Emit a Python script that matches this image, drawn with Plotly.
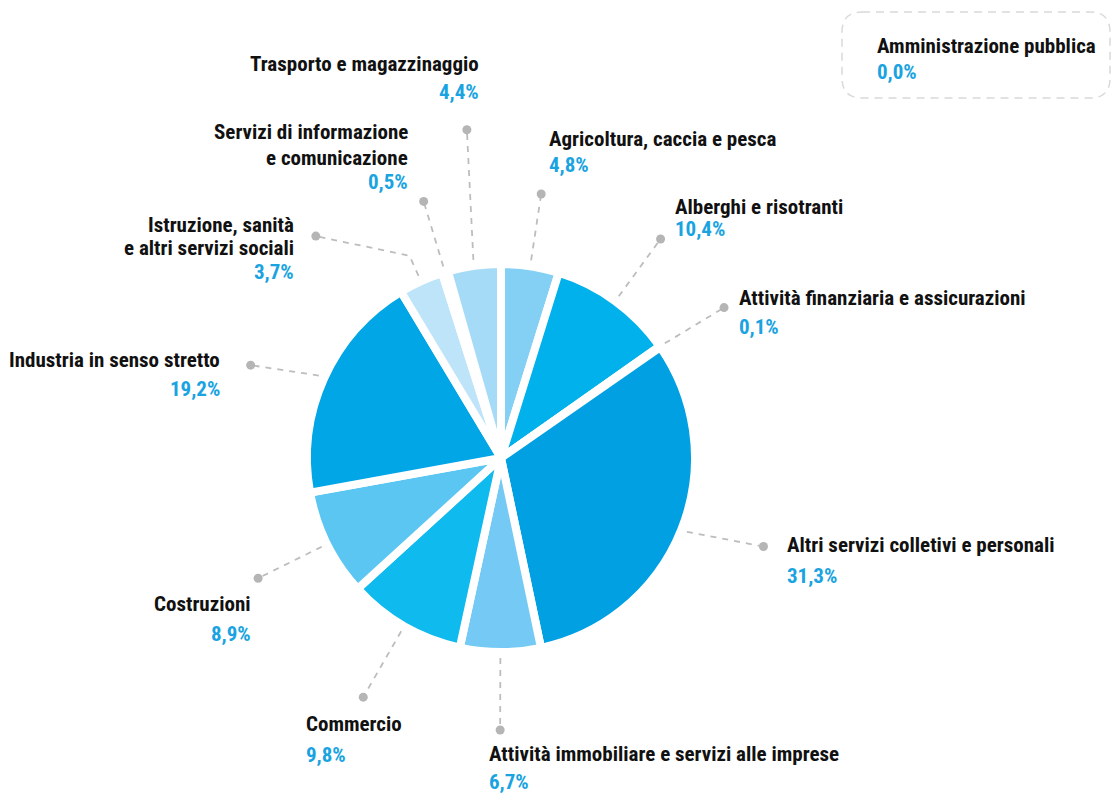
import math
import plotly.graph_objects as go

# ---------------- data ----------------
categories = [
    "Agricoltura, caccia e pesca",
    "Alberghi e risotranti",
    "Attività finanziaria e assicurazioni",
    "Altri servizi colletivi e personali",
    "Attività immobiliare e servizi alle imprese",
    "Commercio",
    "Costruzioni",
    "Industria in senso stretto",
    "Istruzione, sanità<br>e altri servizi sociali",
    "Servizi di informazione<br>e comunicazione",
    "Trasporto e magazzinaggio",
    "Amministrazione pubblica",
]
values = [4.8, 10.4, 0.1, 31.3, 6.7, 9.8, 8.9, 19.2, 3.7, 0.5, 4.4, 0.0]
value_labels = ["4,8%", "10,4%", "0,1%", "31,3%", "6,7%", "9,8%", "8,9%",
                "19,2%", "3,7%", "0,5%", "4,4%", "0,0%"]
colors = ["#84D0F5", "#00B1EB", "#CBEAFA", "#00A0E3", "#74CAF4", "#0FBAEE",
          "#5BC6F2", "#00A6E6", "#BEE4F9", "#D4EEFB", "#A6DBF7", "#FFFFFF"]

# ---------------- layout config ----------------
W, H = 1117, 793
CX, CY, R = 501, 458, 194          # pie centre / radius in px
LINE_W = 8                          # white separators
BLUE = "#1AA3E1"
GREY = "#B5B5B5"
FONT = "Liberation Sans Narrow, Roboto Condensed, Arial Narrow, sans-serif"
FS = 21

# leader: (dot radius, angle offset deg, elbow radius or None)
leaders = {
    0: (267, 0, None), 1: (271, 0, None), 2: (269, 1, None), 3: (277, -3, None),
    4: (272, 0, None), 5: (276, 0, None), 6: (271, 0, None), 7: (267, -4, None),
    8: (289, -15.5, 222), 9: (268, 0, None), 10: (330, 2, None),
}
# label text: (x, y of first name line, y_value, xanchor, line gap)
label_pos = {
    0: (547, 139, 165, "left", 0),
    1: (673, 207, 229, "left", 0),
    2: (737, 298, 327, "left", 0),
    3: (785, 545, 576, "left", 0),
    4: (487, 754, 782, "left", 0),
    5: (304, 724, 755, "left", 0),
    6: (253, 604, 634, "right", 0),
    7: (222, 360, 389, "right", 0),
    8: (296, 225, 272, "right", 23),
    9: (410, 132, 182, "right", 26),
    10: (481, 64, 92, "right", 0),
    11: (875, 46, 72, "left", 0),
}

pie_idx = [i for i, v in enumerate(values) if v > 0]

fig = go.Figure()
fig.add_trace(go.Pie(
    labels=[categories[i] for i in pie_idx],
    values=[values[i] for i in pie_idx],
    marker=dict(colors=[colors[i] for i in pie_idx],
                line=dict(color="white", width=LINE_W)),
    sort=False, direction="clockwise", rotation=0,
    textinfo="none", hoverinfo="label+percent", showlegend=False,
    domain=dict(x=[(CX - R) / W, (CX + R) / W],
                y=[1 - (CY + R) / H, 1 - (CY - R) / H]),
))

# leader lines computed from slice mid-angles
total = sum(values[i] for i in pie_idx)
cum = 0.0
for i in pie_idx:
    mid = (cum + values[i] / 2) / total * 360.0
    cum += values[i]
    r_dot, off, elbow = leaders[i]

    def pt(r, ang):
        a = math.radians(ang)
        return CX + r * math.sin(a), CY - r * math.cos(a)

    pts = [pt(R + 6, mid)]
    if elbow:
        pts.append(pt(elbow, mid))
    dx, dy = pt(r_dot, mid + off)
    pts.append((dx, dy))
    fig.add_trace(go.Scatter(
        x=[p[0] for p in pts], y=[p[1] for p in pts], mode="lines",
        line=dict(color="#BDBDBD", width=1.8, dash="6px,6px"),
        hoverinfo="skip", showlegend=False))
    fig.add_trace(go.Scatter(
        x=[dx], y=[dy], mode="markers",
        marker=dict(color=GREY, size=9), hoverinfo="skip", showlegend=False))

annotations = []
for i, (x, yn, yv, anc, gap) in label_pos.items():
    for k, line in enumerate(categories[i].split("<br>")):
        annotations.append(dict(
            x=x, y=yn + k * gap, xref="x", yref="y", text="<b>%s</b>" % line,
            showarrow=False, xanchor=anc, yanchor="middle", align=anc,
            font=dict(family=FONT, size=FS, color="#111111")))
    annotations.append(dict(
        x=x, y=yv, xref="x", yref="y", text="<b>%s</b>" % value_labels[i],
        showarrow=False, xanchor=anc, yanchor="middle", align=anc,
        font=dict(family=FONT, size=FS, color=BLUE)))

box = ("M 862,12 L 1090,12 Q 1110,12 1110,32 L 1110,78 Q 1110,98 1090,98 "
       "L 862,98 Q 842,98 842,78 L 842,32 Q 842,12 862,12 Z")

fig.update_layout(
    width=W, height=H, margin=dict(l=0, r=0, t=0, b=0),
    paper_bgcolor="white", plot_bgcolor="white",
    xaxis=dict(range=[0, W], visible=False, fixedrange=True),
    yaxis=dict(range=[H, 0], visible=False, fixedrange=True),
    annotations=annotations,
    shapes=[dict(type="path", path=box, xref="x", yref="y",
                 line=dict(color="#D9D9D9", width=1.5, dash="8px,6px"),
                 layer="below")],
    showlegend=False,
)
fig.write_html("out.html", config={"displayModeBar": False},
               post_script="document.body.style.margin='0';"
                           "document.body.style.overflow='hidden';")
